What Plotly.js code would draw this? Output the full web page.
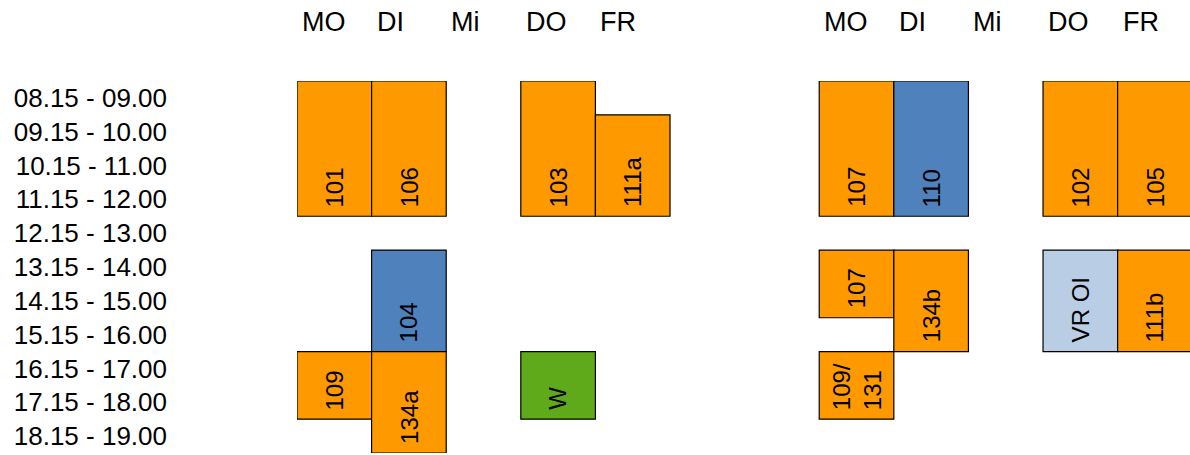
<!DOCTYPE html>
<html>
<head>
<meta charset="utf-8">
<script src="https://cdn.plot.ly/plotly-3.0.1.min.js"></script>
<style>
html,body{margin:0;padding:0;background:#fff;}
#chart{width:1190px;height:455px;}
</style>
</head>
<body>
<div id="chart"></div>
<script>
// ---- data ----
const dayNames = ['MO', 'DI', 'Mi', 'DO', 'FR'];
const timeSlots = ['08.15 - 09.00', '09.15 - 10.00', '10.15 - 11.00', '11.15 - 12.00',
  '12.15 - 13.00', '13.15 - 14.00', '14.15 - 15.00', '15.15 - 16.00',
  '16.15 - 17.00', '17.15 - 18.00', '18.15 - 19.00'];
const weeks = [0, 1];
// lessons: week, day index, first time slot index, number of slots, room label, kind
const lessonWeek  = [0, 0, 0, 0, 0, 0, 0, 0, 1, 1, 1, 1, 1, 1, 1, 1, 1];
const lessonDay   = [0, 1, 3, 4, 1, 0, 1, 3, 0, 1, 3, 4, 0, 1, 3, 4, 0];
const lessonStart = [0, 0, 0, 1, 5, 8, 8, 8, 0, 0, 0, 0, 5, 5, 5, 5, 8];
const lessonLen   = [4, 4, 4, 3, 3, 2, 3, 2, 4, 4, 4, 4, 2, 3, 3, 3, 2];
const lessonRoom  = ['101', '106', '103', '111a', '104', '109', '134a', 'W',
  '107', '110', '102', '105', '107', '134b', 'VR OI', '111b', '109/<br>131'];
const lessonKind  = ['o', 'o', 'o', 'o', 'b', 'o', 'o', 'g',
  'o', 'b', 'o', 'o', 'o', 'o', 'l', 'o', 'o'];

// ---- styling ----
const kindColor = {o: '#FF9900', b: '#4F81BD', l: '#B9CDE5', g: '#5FAA1B'};
const FONT = 'Liberation Sans, Arial, sans-serif';
const weekOffset = 7; // columns between the start of week 1 and week 2

const colOf = i => lessonWeek[i] * weekOffset + lessonDay[i];
const idx = lessonRoom.map((_, i) => i);

const trace = {
  type: 'bar',
  x: idx.map(i => colOf(i) + 0.5),
  base: lessonStart,
  y: lessonLen,
  width: 1,
  marker: {
    color: lessonKind.map(k => kindColor[k]),
    line: {color: '#000000', width: 1.2}
  },
  hoverinfo: 'none',
  showlegend: false
};

const annotations = [];
// room labels, rotated, anchored at bottom of each block
idx.forEach(i => {
  annotations.push({
    xref: 'x', yref: 'y',
    x: colOf(i) + 0.5,
    y: lessonStart[i] + lessonLen[i],
    text: lessonRoom[i],
    textangle: -90,
    showarrow: false,
    xanchor: 'center', yanchor: 'bottom',
    align: 'left',
    yshift: 7,
    font: {family: FONT, size: 24, color: '#000'}
  });
});
// day headers
weeks.forEach(w => {
  dayNames.forEach((d, j) => {
    annotations.push({
      xref: 'x', yref: 'paper',
      x: w * weekOffset + j, y: 1,
      text: d,
      showarrow: false,
      xanchor: 'left', yanchor: 'middle',
      xshift: 3, yshift: 59,
      font: {family: FONT, size: 27, color: '#000'}
    });
  });
});

const layout = {
  width: 1190, height: 455,
  margin: {l: 297, r: 0, t: 81, b: 2, pad: 0},
  paper_bgcolor: '#ffffff', plot_bgcolor: '#ffffff',
  bargap: 0,
  xaxis: {
    range: [0, 11.97], showgrid: false, zeroline: false, showline: false,
    showticklabels: false, ticks: '', fixedrange: true
  },
  yaxis: {
    range: [11, 0], showgrid: false, zeroline: false, showline: false,
    ticks: '',
    tickmode: 'array',
    tickvals: timeSlots.map((_, i) => i + 0.5),
    ticktext: timeSlots,
    ticklabelstandoff: 129,
    tickfont: {family: FONT, size: 26, color: '#000'},
    fixedrange: true
  },
  annotations: annotations,
  font: {family: FONT}
};

Plotly.newPlot('chart', [trace], layout, {displayModeBar: false, staticPlot: true});
</script>
</body>
</html>
